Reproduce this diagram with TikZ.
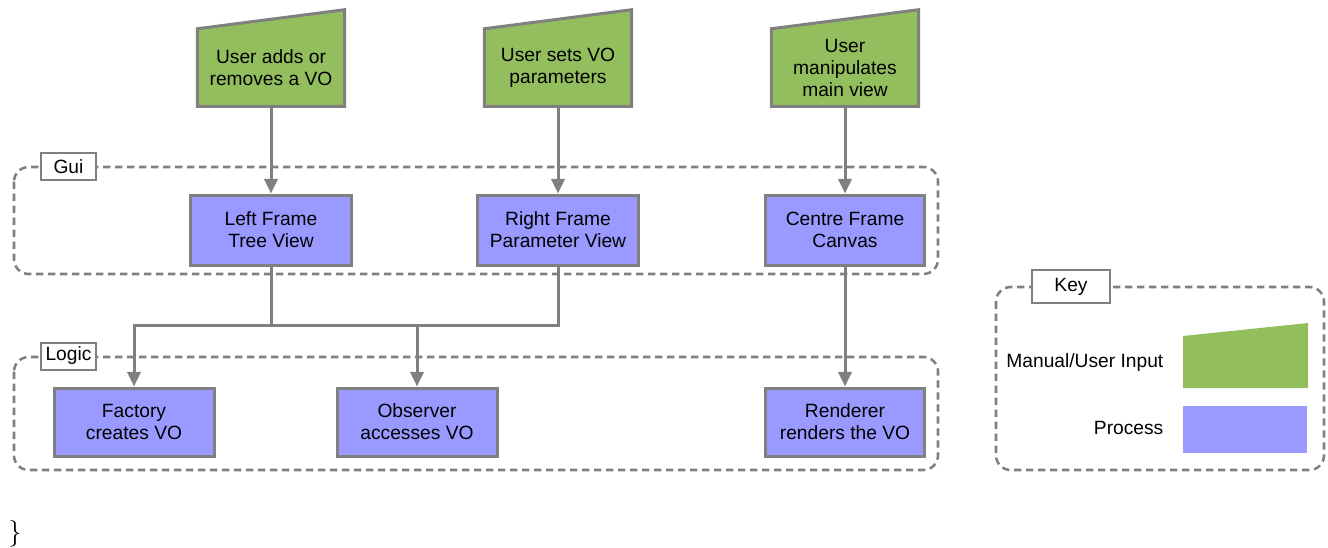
\documentclass[tikz,border=0pt]{standalone}
\usepackage{fontspec}
\setsansfont{Liberation Sans}
\usetikzlibrary{arrows.meta,backgrounds}

\definecolor{inputgreen}{RGB}{147,190,94}
\definecolor{processblue}{RGB}{153,153,255}
\definecolor{linegrey}{RGB}{128,128,128}

\tikzset{
  diagramfont/.style={font=\sffamily\fontsize{14.4}{16.5}\selectfont},
  userinput/.style={diagramfont, align=center, minimum width=110pt, minimum height=57.75pt},
  inputshape/.style={draw=linegrey, line width=2.25pt, fill=inputgreen, line join=miter},
  process/.style={diagramfont, align=center, draw=linegrey, line width=2.25pt, fill=processblue},
  group/.style={draw=linegrey, line width=1.9pt, dash pattern=on 5.5pt off 3.5pt, rounded corners=11pt},
  grouplabel/.style={diagramfont, draw=linegrey, line width=1.5pt, fill=white, inner sep=1pt},
  flow/.style={draw=linegrey, line width=2.25pt, -{Triangle[length=11pt,width=10pt]}},
  link/.style={draw=linegrey, line width=2.25pt}
}

\begin{document}
\begin{tikzpicture}[x=0.75pt,y=-0.75pt]
  \useasboundingbox (0,0) rectangle (1328,547);

  % Define the groups
  \draw[group] (14,167) rectangle (938,274);
  \draw[group] (14,357) rectangle (938,470);
  \draw[group] (996,287) rectangle (1324,470);
  \node[grouplabel, minimum width=41.25pt, minimum height=20.25pt] (guilabel) at (68.5,166.5) {Gui};
  \node[grouplabel, minimum width=41.25pt, minimum height=20.25pt] (logiclabel) at (68.5,356) {Logic};
  \node[grouplabel, minimum width=58.5pt, minimum height=24.75pt] (keylabel) at (1071,286.5) {Key};

  % User inputs
  \node[userinput] (addvo) at (271,67.5) {User adds or\\removes a VO};
  \node[userinput] (setvo) at (558,67.5) {User sets VO\\parameters};
  \node[userinput] (mainview) at (845,67.5) {User\\manipulates\\main view};
  \begin{scope}[on background layer]
    \foreach \n in {addvo, setvo, mainview} {
      \draw[inputshape] (\n.south west) -- (\n.north west) -- ([yshift=14.25pt]\n.north east) -- (\n.south east) -- cycle;
    }
  \end{scope}

  % Gui frames
  \node[process, minimum width=120.75pt, minimum height=52.5pt] (leftframe) at (271,230) {Left Frame\\Tree View};
  \node[process, minimum width=120.75pt, minimum height=52.5pt] (rightframe) at (558,230) {Right Frame\\Parameter View};
  \node[process, minimum width=119.25pt, minimum height=52.5pt] (centreframe) at (845,230) {Centre Frame\\Canvas};

  % Logic
  \node[process, minimum width=120pt, minimum height=51pt] (factory) at (134,422) {Factory\\creates VO};
  \node[process, minimum width=120pt, minimum height=51pt] (observer) at (417,422) {Observer\\accesses VO};
  \node[process, minimum width=119.25pt, minimum height=51pt] (renderer) at (845,422) {Renderer\\renders the VO};

  % Connections
  \coordinate (busleft) at (271,325);
  \coordinate (busright) at (558,325);
  \draw[flow] (addvo) -- (leftframe);
  \draw[flow] (setvo) -- (rightframe);
  \draw[flow] (mainview) -- (centreframe);
  \draw[flow] (centreframe) -- (renderer);
  \draw[flow] (leftframe) -- (busleft) -| (factory);
  \draw[link] (rightframe) -- (busright) -- (busleft);
  \draw[flow] (busright) -| (observer);

  % Key
  \fill[inputgreen] (1183,336) -- (1308,323) -- (1308,388) -- (1183,388) -- cycle;
  \fill[processblue] (1183,406) rectangle (1307,453);
  \node[diagramfont, anchor=east] (manualkey) at (1168,363) {Manual/User Input};
  \node[diagramfont, anchor=east] (processkey) at (1168,428) {Process};

  \node[font=\rmfamily\fontsize{20}{24}\selectfont] (brace) at (15,534) {\}};
\end{tikzpicture}
\end{document}
